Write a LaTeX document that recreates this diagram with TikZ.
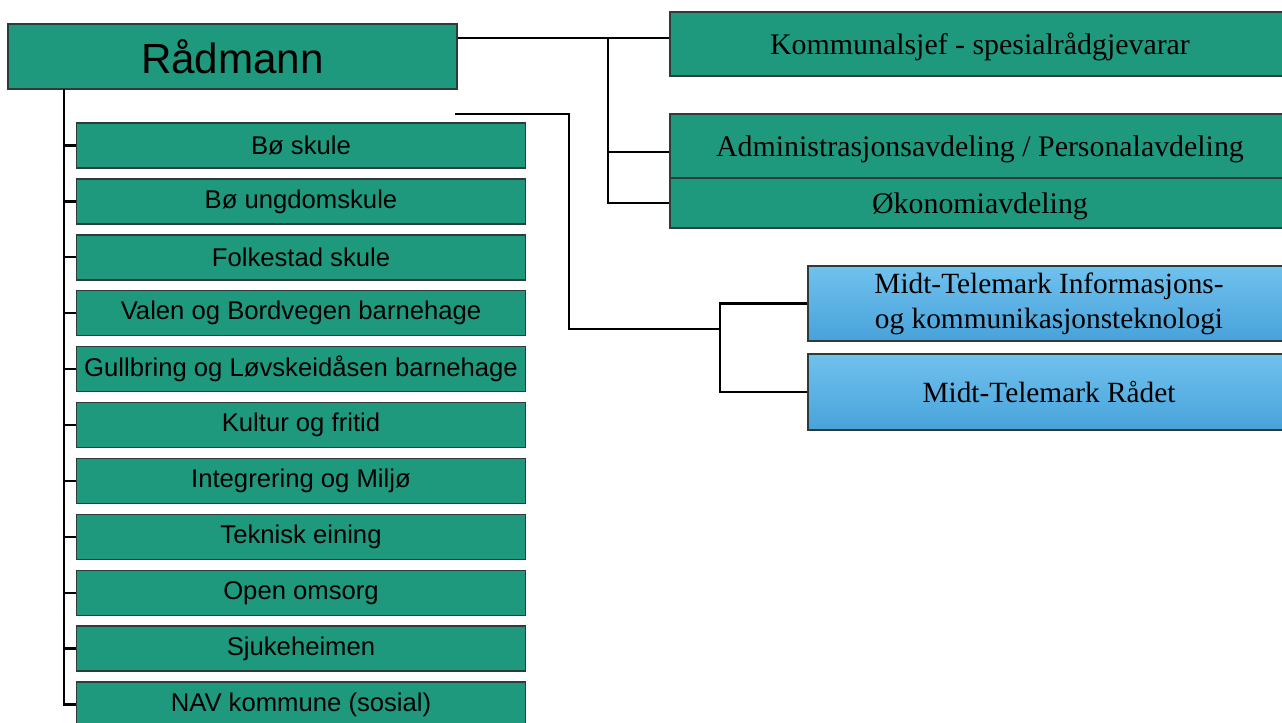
\documentclass[tikz,border=0pt]{standalone}
\usepackage{fontspec}
\setmainfont{Liberation Serif}
\newfontfamily\arialfont{Liberation Sans}
\usepackage{tikz}
\definecolor{tealbox}{RGB}{30,153,125}
\definecolor{boxline}{RGB}{45,60,55}
\definecolor{bluetop}{RGB}{112,194,238}
\definecolor{bluebot}{RGB}{72,162,218}

\begin{document}
\begin{tikzpicture}[x=0.2mm,y=-0.2mm,
    avd/.style={draw=boxline,line width=0.8pt,fill=tealbox,inner sep=0pt,
      minimum width=89.8mm,minimum height=9mm,font=\arialfont\fontsize{14.6}{17}\selectfont},
    stab/.style={draw=boxline,line width=0.8pt,fill=tealbox,inner sep=0pt,
      minimum width=124mm,text height=12.5pt,text depth=0pt,
      font=\fontsize{17}{20}\selectfont},
    samarb/.style={draw=boxline,line width=0.8pt,top color=bluetop,bottom color=bluebot,
      inner sep=0pt,minimum width=96.4mm,minimum height=15mm,align=center,
      font=\fontsize{16.7}{20}\selectfont},
    link/.style={line width=1.3pt,black}]
  \useasboundingbox (0,0) rectangle (1282,722);

      \draw (232.5,56.5) node[avd,minimum height=13mm,
        font=\arialfont\fontsize{24}{28}\selectfont] (radmann) {Rådmann};

  % einingane
      \draw (301,145.5) node[avd] (boskule) {Bø skule};
      \draw (301,201.4) node[avd] (boungdom) {Bø ungdomskule};
      \draw (301,257.3) node[avd] (folkestad) {Folkestad skule};
      \draw (301,313.2) node[avd] (valen) {Valen og Bordvegen barnehage};
      \draw (301,369.1) node[avd] (gullbring) {Gullbring og Løvskeidåsen barnehage};
      \draw (301,425.0) node[avd] (kultur) {Kultur og fritid};
      \draw (301,480.9) node[avd] (integrering) {Integrering og Miljø};
      \draw (301,536.8) node[avd] (teknisk) {Teknisk eining};
      \draw (301,592.7) node[avd] (omsorg) {Open omsorg};
      \draw (301,648.6) node[avd] (sjukeheim) {Sjukeheimen};
      \draw (301,704.5) node[avd] (nav) {NAV kommune (sosial)};

  % stab
      \draw (980,44) node[stab,minimum height=12.8mm] (kommunalsjef) {Kommunalsjef - spesialrådgjevarar};
      \draw (980,146) node[stab,minimum height=12.8mm] (admin) {Administrasjonsavdeling / Personalavdeling};
      \draw (980,203) node[stab,minimum height=10mm] (okonomi) {Økonomiavdeling};

  % samarbeid
      \draw (1049,303.5) node[samarb] (mtikt) {Midt-Telemark Informasjons-\\og kommunikasjonsteknologi};
      \draw (1049,392) node[samarb,minimum height=15.2mm] (mtradet) {Midt-Telemark Rådet};

  \coordinate (trunk) at (64,89);
  \coordinate (stabhub) at (608,38);
  \coordinate (itstart) at (455,114);
  \coordinate (ithub) at (720,329);

      \draw[link] (trunk) |- (nav.west);
      \draw[link] (trunk |- boskule.west) -- (boskule.west);
      \draw[link] (trunk |- boungdom.west) -- (boungdom.west);
      \draw[link] (trunk |- folkestad.west) -- (folkestad.west);
      \draw[link] (trunk |- valen.west) -- (valen.west);
      \draw[link] (trunk |- gullbring.west) -- (gullbring.west);
      \draw[link] (trunk |- kultur.west) -- (kultur.west);
      \draw[link] (trunk |- integrering.west) -- (integrering.west);
      \draw[link] (trunk |- teknisk.west) -- (teknisk.west);
      \draw[link] (trunk |- omsorg.west) -- (omsorg.west);
      \draw[link] (trunk |- sjukeheim.west) -- (sjukeheim.west);

      \draw[link] (radmann.east |- stabhub) -- (kommunalsjef.west |- stabhub);
      \draw[link] (okonomi.west) -| (stabhub);
      \draw[link] ([yshift=-1.2mm]admin.west) -| (stabhub);

      \draw[link] (itstart) -- ++(114,0) |- (ithub);
      \draw[link] (mtikt.west) -| (ithub);
      \draw[link] (mtradet.west) -| (ithub);
\end{tikzpicture}
\end{document}
